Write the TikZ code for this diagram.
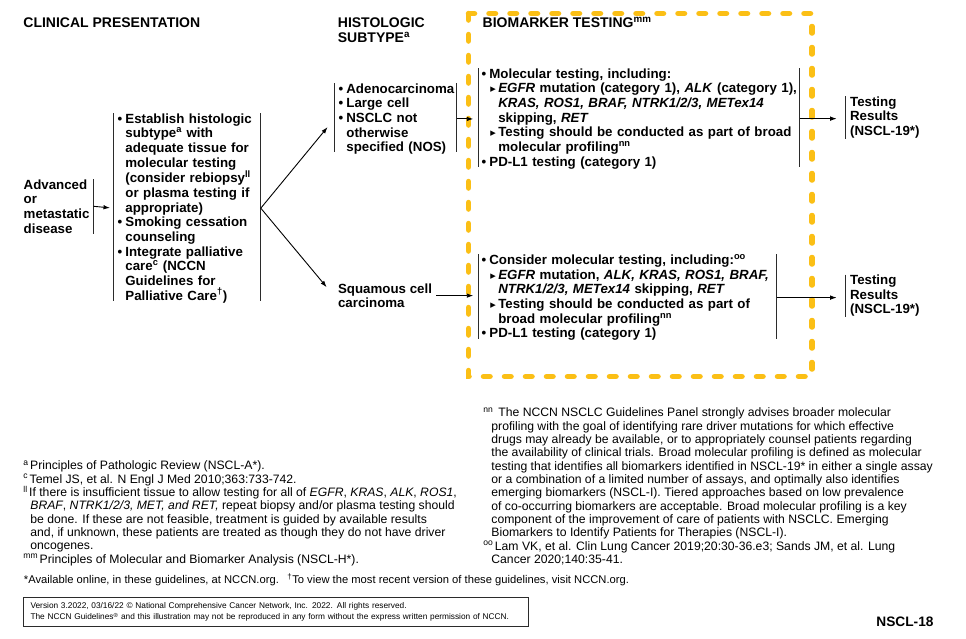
\documentclass[tikz,border=0pt]{standalone}
\usepackage{fontspec}
\setmainfont{Liberation Sans}
\newfontfamily\glyphfont{DejaVu Sans}
\usetikzlibrary{arrows.meta}
\definecolor{cgold}{HTML}{FBBF15}
\definecolor{cline}{HTML}{2B2B2B}
\newcommand{\bul}{\makebox[7.7pt][l]{\textbullet}}
\newcommand{\bgap}{\hspace*{7.7pt}}
\newcommand{\tbul}{\hspace*{8.6pt}\makebox[8pt][l]{\raisebox{0.3pt}{\glyphfont\fontsize{11}{11}\selectfont\char"25B8}}}
\newcommand{\tgap}{\hspace*{16.6pt}}
\newcommand{\fmark}[1]{\textsuperscript{#1}\hspace{1.5pt}}
\tikzset{
  every picture/.style={line width=0.8pt},
  hdr/.style={font=\bfseries\fontsize{14}{14.67}\selectfont, align=left, inner sep=0pt},
  stepbox/.style={font=\bfseries\fontsize{13.3}{14.67}\selectfont, align=left, anchor=north west, inner xsep=4pt, inner ysep=0pt},
  bar/.style={draw=cline, line width=1pt, shorten >=2.5pt},
  arrow/.style={-{Latex[length=6.5pt, width=4.5pt]}, draw=black, line width=0.9pt, shorten >=3pt},
  fnote/.style={font=\fontsize{12.2}{13.33}\selectfont, align=left, inner sep=0pt},
  testframe/.style={draw=cgold, line width=5.5pt, dash pattern=on 6.5pt off 14.5pt, line cap=round},
}

\begin{document}
\begin{tikzpicture}[x=1pt, y=-1pt]
  \fill[white] (0,0) rectangle (966,638);
  \useasboundingbox (0,0) rectangle (966,638);
  % biomarker frame
  \draw[testframe] (468.5,13.5) rectangle (812,376.5);
  % column heads
  \node[hdr, anchor=base west] (clinhdr) at (23,27.5) {CLINICAL PRESENTATION};
  \node[hdr, anchor=north west] (histhdr) at (337.5,17.5) {HISTOLOGIC\\SUBTYPE\textsuperscript{a}};
  \node[hdr, anchor=base west] (biohdr) at (482.3,27.5) {BIOMARKER TESTING\textsuperscript{mm}};
  % flow
  \node[stepbox, inner xsep=3.5pt, text width=66pt] (adv) at (19.8,179) {Advanced\\or\\metastatic\\disease};
  \node[stepbox, text width=138.7pt] (work) at (113.3,113) {\bul Establish histologic\\
    \bgap subtype\textsuperscript{a} with\\
    \bgap adequate tissue for\\
    \bgap molecular testing\\
    \bgap (consider rebiopsy\textsuperscript{ll}\\
    \bgap or plasma testing if\\
    \bgap appropriate)\\
    \bul Smoking cessation\\
    \bgap counseling\\
    \bul Integrate palliative\\
    \bgap care\textsuperscript{c} (NCCN\\
    \bgap Guidelines for\\
    \bgap Palliative Care\textsuperscript{\textdagger})};
  \node[stepbox, text width=113.7pt] (adeno) at (334.3,83) {\bul Adenocarcinoma\\
    \bul Large cell\\
    \bul NSCLC not\\
    \bgap otherwise\\
    \bgap specified (NOS)};
  \node[stepbox] (squam) at (333.7,283) {Squamous cell\\carcinoma};
  \node[stepbox, inner xsep=3pt, text width=314.7pt] (mol) at (478.3,68) {\bul Molecular testing, including:\\
    \tbul \mbox{\textit{EGFR} mutation (category 1), \textit{ALK} (category 1),}\\
    \tgap \textit{KRAS, ROS1, BRAF, NTRK1/2/3, METex14}\\
    \tgap skipping, \textit{RET}\\
    \tbul \mbox{Testing should be conducted as part of broad}\\
    \tgap molecular profiling\textsuperscript{nn}\\
    \bul PD-L1 testing (category 1)};
  \node[stepbox, inner xsep=3pt, text width=291.4pt] (cons) at (478.3,254) {\bul Consider molecular testing, including:\textsuperscript{oo}\\
    \tbul \mbox{\textit{EGFR} mutation, \textit{ALK, KRAS, ROS1, BRAF,}}\\
    \tgap \textit{NTRK1/2/3, METex14} skipping, \textit{RET}\\
    \tbul Testing should be conducted as part of\\
    \tgap broad molecular profiling\textsuperscript{nn}\\
    \bul PD-L1 testing (category 1)};
  \node[stepbox] (res1) at (845.7,96) {Testing\\Results\\(NSCL-19*)};
  \node[stepbox] (res2) at (845.7,274.5) {Testing\\Results\\(NSCL-19*)};
  % brackets
  \draw[bar, shorten >=0pt] (adv.north east) -- (adv.south east);
  \draw[bar] (work.north west) -- (work.south west);
  \draw[bar] (work.north east) -- (work.south east);
  \draw[bar] (adeno.north west) -- (adeno.south west);
  \draw[bar] (adeno.north east) -- (adeno.south east);
  \draw[bar] (mol.north west) -- (mol.south west);
  \draw[bar] (mol.north east) -- (mol.south east);
  \draw[bar] (cons.north west) -- (cons.south west);
  \draw[bar] (cons.north east) -- (cons.south east);
  \draw[bar, shorten >=0pt] (res1.north west) -- (res1.south west);
  \draw[bar, shorten >=0pt] (res2.north west) -- (res2.south west);
  % connectors
  \draw[arrow, shorten >=3.3pt] (adv.east) -- (work.west);
  \draw[arrow, shorten >=10.6pt] (work.east) -- (adeno.west);
  \draw[arrow, shorten >=11pt] (work.east) -- (squam.west);
  \draw[arrow, shorten >=5pt] (adeno.east) -- (adeno.east -| mol.west);
  \draw[arrow, shorten >=5pt] (squam.east) -- (squam.east -| cons.west);
  \draw[arrow, shorten >=9pt] (mol.east) -- (mol.east -| res1.west);
  \draw[arrow, shorten >=9pt] (cons.east) -- (cons.east -| res2.west);
  % footnotes
  \node[fnote, anchor=north west] (fnleft) at (23,460.5) {\fmark{a}Principles of Pathologic Review (NSCL-A*).\\
    \fmark{c}Temel JS, et al. N Engl J Med 2010;363:733-742.\\
    \fmark{ll}If there is insufficient tissue to allow testing for all of \textit{EGFR}, \textit{KRAS}, \textit{ALK}, \textit{ROS1},\\
    \hspace*{7pt}\textit{BRAF}, \textit{NTRK1/2/3, MET, and RET,} repeat biopsy and/or plasma testing should\\
    \hspace*{7pt}be done. If these are not feasible, treatment is guided by available results\\
    \hspace*{7pt}and, if unknown, these patients are treated as though they do not have driver\\
    \hspace*{7pt}oncogenes.\\
    \fmark{mm}Principles of Molecular and Biomarker Analysis (NSCL-H*).};
  \node[fnote, anchor=north west] (fnright) at (483,407.5) {\textsuperscript{nn}\hspace{5pt}The NCCN NSCLC Guidelines Panel strongly advises broader molecular\\
    \hspace*{8pt}profiling with the goal of identifying rare driver mutations for which effective\\
    \hspace*{8pt}drugs may already be available, or to appropriately counsel patients regarding\\
    \hspace*{8pt}the availability of clinical trials. Broad molecular profiling is defined as molecular\\
    \hspace*{8pt}testing that identifies all biomarkers identified in NSCL-19* in either a single assay\\
    \hspace*{8pt}or a combination of a limited number of assays, and optimally also identifies\\
    \hspace*{8pt}emerging biomarkers (NSCL-I). Tiered approaches based on low prevalence\\
    \hspace*{8pt}of co-occurring biomarkers are acceptable. Broad molecular profiling is a key\\
    \hspace*{8pt}component of the improvement of care of patients with NSCLC. Emerging\\
    \hspace*{8pt}Biomarkers to Identify Patients for Therapies (NSCL-I).\\
    \fmark{oo}Lam VK, et al. Clin Lung Cancer 2019;20:30-36.e3; Sands JM, et al. Lung\\
    \hspace*{8pt}Cancer 2020;140:35-41.};
  \node[fnote, anchor=base west, font=\fontsize{11.2}{13}\selectfont] (avail) at (23.5,583) {*Available online, in these guidelines, at NCCN.org.};
  \node[fnote, anchor=base west, font=\fontsize{11.2}{13}\selectfont] (recent) at (287,583) {\textsuperscript{\textdagger}To view the most recent version of these guidelines, visit NCCN.org.};
  % page foot
  \node[draw=cline, line width=1.1pt, anchor=north west, text width=491pt, inner xsep=7pt, minimum height=29pt, align=left, font=\fontsize{8.3}{11.5}\selectfont] (rights) at (23,597) {Version 3.2022, 03/16/22 \textcopyright{} National Comprehensive Cancer Network, Inc. 2022. All rights reserved.\\
    The NCCN Guidelines\textsuperscript{\textregistered} and this illustration may not be reproduced in any form without the express written permission of NCCN.};
  \node[anchor=base west, inner sep=0pt, font=\bfseries\fontsize{13.7}{16}\selectfont] (pageno) at (876,626.5) {NSCL-18};
\end{tikzpicture}
\end{document}
